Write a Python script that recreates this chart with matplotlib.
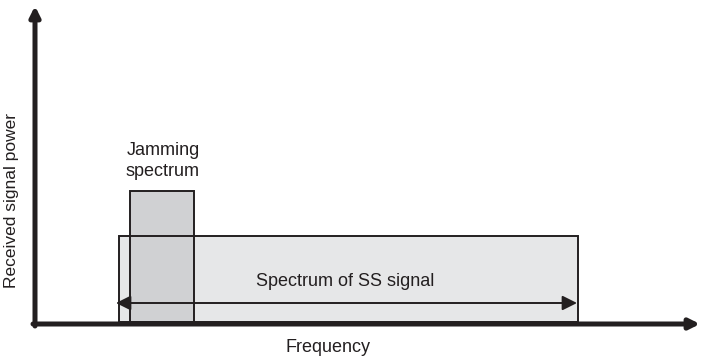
import matplotlib.pyplot as plt
from matplotlib.patches import Rectangle
from matplotlib import font_manager

# geometry in picture units (pixels of a 701x360 canvas, y downwards)
freq_axis = [35, 700]        # x extent of frequency axis
power_axis = [324, 6]        # y extent of power axis
ss_band = [119, 578]         # SS spectrum frequency extent
ss_level = 236
jam_band = [130, 194]        # jamming spectrum frequency extent
jam_level = 191
arrow_span = [116, 577]
arrow_y = 303

labels = {
    "x": "Frequency",
    "y": "Received signal power",
    "jam": "Jamming\nspectrum",
    "ss": "Spectrum of SS signal",
}

names = {f.name for f in font_manager.fontManager.ttflist}
fam = ["Liberation Sans Narrow", "DejaVu Sans"] if "Liberation Sans Narrow" in names else ["Liberation Sans", "DejaVu Sans"]
plt.rcParams['font.family'] = fam

ink = "#231f20"
fig = plt.figure(figsize=(7.01, 3.6), dpi=100)
ax = fig.add_axes([0, 0, 1, 1])
ax.set_xlim(0, 701)
ax.set_ylim(360, 0)
ax.axis("off")

base = power_axis[0] - 2
# fills
ax.add_patch(Rectangle((ss_band[0], ss_level), ss_band[1] - ss_band[0], base - ss_level,
                       facecolor="#e6e7e8", edgecolor="none", zorder=1))
ax.add_patch(Rectangle((jam_band[0], jam_level), jam_band[1] - jam_band[0], base - jam_level,
                       facecolor="#d0d1d3", edgecolor="none", zorder=2))
# outlines
ax.add_patch(Rectangle((ss_band[0], ss_level), ss_band[1] - ss_band[0], base - ss_level,
                       facecolor="none", edgecolor=ink, lw=1.4, zorder=3))
ax.add_patch(Rectangle((jam_band[0], jam_level), jam_band[1] - jam_band[0], base - jam_level,
                       facecolor="none", edgecolor=ink, lw=1.4, zorder=3))

# double arrow across SS band
ax.annotate("", xy=(arrow_span[0], arrow_y), xytext=(arrow_span[1], arrow_y),
            arrowprops=dict(arrowstyle="<|-|>", color=ink, lw=1.4,
                            mutation_scale=22, shrinkA=0, shrinkB=0), zorder=4)

# axes arrows
ax.annotate("", xy=(freq_axis[1], power_axis[0]), xytext=(freq_axis[0] - 2, power_axis[0]),
            arrowprops=dict(arrowstyle="-|>", color=ink, lw=3.6,
                            mutation_scale=15, shrinkA=0, shrinkB=0), zorder=5)
ax.annotate("", xy=(freq_axis[0], power_axis[1]), xytext=(freq_axis[0], power_axis[0] + 2),
            arrowprops=dict(arrowstyle="-|>", color=ink, lw=3.6,
                            mutation_scale=15, shrinkA=0, shrinkB=0), zorder=5)

# text
ax.text(328, 348, labels["x"], ha="center", va="center", fontsize=13, color=ink)
ax.text(12, 200, labels["y"], ha="center", va="center", rotation=90, fontsize=12.5, color=ink)
ax.text(163, 161, labels["jam"], ha="center", va="center", fontsize=13, color=ink,
        linespacing=1.3)
ax.text(345, 281, labels["ss"], ha="center", va="center", fontsize=13, color=ink)

fig.savefig("out.png", dpi=100)
